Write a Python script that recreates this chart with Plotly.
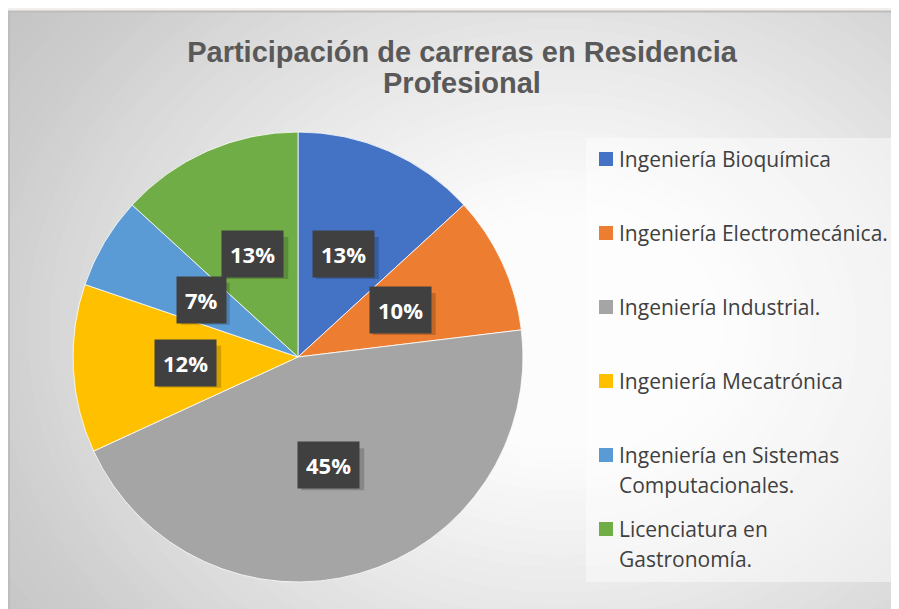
import math
import plotly.graph_objects as go

# ── datos
carreras = [
    "Ingeniería Bioquímica",
    "Ingeniería Electromecánica.",
    "Ingeniería Industrial.",
    "Ingeniería Mecatrónica",
    "Ingeniería en Sistemas Computacionales.",
    "Licenciatura en Gastronomía.",
]
legend_lines = [
    ["Ingeniería Bioquímica"],
    ["Ingeniería Electromecánica."],
    ["Ingeniería Industrial."],
    ["Ingeniería Mecatrónica"],
    ["Ingeniería en Sistemas", "Computacionales."],
    ["Licenciatura en", "Gastronomía."],
]
titulo = ["Participación de carreras en Residencia", "Profesional"]
residentes = [12, 9, 41, 11, 6, 12]
colores = ["#4472C4", "#ED7D31", "#A5A5A5", "#FFC000", "#5B9BD5", "#70AD47"]

# la página tiene 8px de margen en el body: la figura empieza en (8, 8)
OFF = 8
W, H = 899 - OFF, 609 - OFF
CX, CY, R = 298, 357, 225   # centro / radio del pastel (px de ventana)


def px(x):
    return (x - OFF) / W


def py(y):
    return 1 - (y - OFF) / H


fig = go.Figure()
fig.add_trace(go.Pie(
    labels=carreras, values=residentes, sort=False, direction="clockwise",
    rotation=0, marker=dict(colors=colores, line=dict(color="white", width=0.8)),
    textinfo="none", showlegend=False, hoverinfo="label+percent",
    domain=dict(x=[px(CX - R), px(CX + R)], y=[py(CY + R), py(CY - R)]),
))

shapes = []
# ── área del gráfico con degradado radial
GX, GY = 560, 330
stops = [(560, 0xc4), (470, 0xcd), (400, 0xd8), (300, 0xe6), (200, 0xf3), (120, 0xfc)]
steps = []
for i in range(len(stops) - 1):
    (r0, c0), (r1, c1) = stops[i], stops[i + 1]
    for k in range(8):
        t = k / 8
        steps.append((r0 + (r1 - r0) * t, c0 + (c1 - c0) * t))
steps.append(stops[-1])
for r, c in steps:
    c = int(round(c))
    rx, ry = r * 1.25, r
    shapes.append(dict(type="circle", xref="paper", yref="paper",
                       x0=px(GX - rx), x1=px(GX + rx), y0=py(GY + ry), y1=py(GY - ry),
                       fillcolor=f"rgb({c},{c},{c})", line=dict(width=0), layer="below"))
# franja exterior superior y bordes del área
shapes.append(dict(type="rect", xref="paper", yref="paper", x0=0, x1=1,
                   y0=py(11), y1=1, fillcolor="#f2efec", line=dict(width=0), layer="below"))
shapes.append(dict(type="line", xref="paper", yref="paper", x0=0, x1=1,
                   y0=py(11.5), y1=py(11.5), line=dict(color="#bdbdbd", width=2),
                   layer="below"))
shapes.append(dict(type="line", xref="paper", yref="paper", x0=px(9), x1=px(9),
                   y0=0, y1=py(11), line=dict(color="#bdbdbd", width=2), layer="below"))

# ── leyenda manual
shapes.append(dict(type="rect", xref="paper", yref="paper", x0=px(586), x1=px(895),
                   y0=py(582), y1=py(138), fillcolor="rgba(255,255,255,0.45)",
                   line=dict(width=0), layer="below"))
annotations = []
for i, (lines, col) in enumerate(zip(legend_lines, colores)):
    y0 = 159 + i * 74
    shapes.append(dict(type="rect", xref="paper", yref="paper",
                       x0=px(599), x1=px(613), y0=py(y0 + 7), y1=py(y0 - 7),
                       fillcolor=col, line=dict(width=0)))
    for j, ln in enumerate(lines):
        annotations.append(dict(
            x=px(617), y=py(y0 + j * 30), xref="paper", yref="paper",
            text=ln, showarrow=False, xanchor="left", yanchor="middle",
            font=dict(family="Open Sans, Noto Sans, sans-serif", size=21,
                      color="#404040"),
        ))

# ── segunda línea del título (interlineado ajustado como en el original)
annotations.append(dict(
    x=px(462), y=py(83), xref="paper", yref="paper", text=f"<b>{titulo[1]}</b>",
    showarrow=False, xanchor="center", yanchor="middle",
    font=dict(family="Liberation Sans, Arial, sans-serif", size=29, color="#595959"),
))

# ── etiquetas de porcentaje (caja oscura + sombra)
total = sum(residentes)
acc = 0
label_shapes = []
for v in residentes:
    mid = (acc + v / 2) / total * 2 * math.pi
    acc += v
    lx = CX + 0.5 * R * math.sin(mid)
    ly = CY - 0.5 * R * math.cos(mid)
    pct = f"{round(100 * v / total)}%"
    bw, bh = 21 + 14 * len(pct), 42
    label_shapes.append(dict(
        type="rect", xref="paper", yref="paper", xsizemode="pixel", ysizemode="pixel",
        xanchor=px(lx), yanchor=py(ly),
        x0=-bw / 2 + 4, x1=bw / 2 + 4, y0=-bh / 2 - 4, y1=bh / 2 - 4,
        fillcolor="rgba(0,0,0,0.18)", line=dict(width=0),
    ))
    annotations.append(dict(
        x=px(lx), y=py(ly), xref="paper", yref="paper", text=f"<b>{pct}</b>",
        showarrow=False, borderpad=8, xanchor="center", yanchor="middle",
        bgcolor="#404040",
        font=dict(family="Open Sans, sans-serif", size=22, color="white"),
    ))
shapes += label_shapes

fig.update_layout(
    width=W, height=H,
    title=dict(
        text=f"<b>{titulo[0]}</b>",
        x=px(462), xanchor="center", y=py(52), yanchor="middle",
        font=dict(family="Liberation Sans, Arial, sans-serif", size=29,
                  color="#595959"),
    ),
    shapes=shapes, annotations=annotations,
    paper_bgcolor="#f2efec", plot_bgcolor="rgba(0,0,0,0)",
    margin=dict(l=0, r=0, t=0, b=0),
)

fig.write_html("out.html")
